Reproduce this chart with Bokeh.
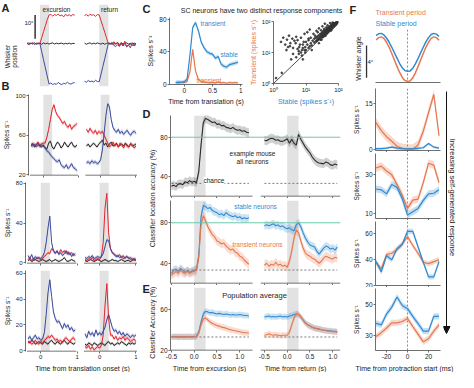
import numpy as np
from math import pi
from bokeh.plotting import figure
from bokeh.models import Label, BoxAnnotation, Span, FixedTicker, Arrow, NormalHead
from bokeh.layouts import row, column
from bokeh.embed import file_html
from bokeh.resources import INLINE

# ============================ DATA ============================
# A/B: time from translation onset (s) -- excursion and return segments
T_EXC_B = [-0.35, -0.3, -0.25, -0.2, -0.15, -0.1, -0.05, 0.0, 0.05, 0.1, 0.15, 0.2, 0.25, 0.3,
           0.35, 0.4, 0.45, 0.5, 0.55, 0.6, 0.65, 0.7, 0.75, 0.8, 0.85, 0.9, 0.95]
T_RET_B = [-0.4, -0.35, -0.3, -0.25, -0.2, -0.15, -0.1, -0.05, 0.0, 0.05, 0.1, 0.15, 0.2, 0.25,
           0.3, 0.35, 0.4, 0.45, 0.5, 0.55, 0.6, 0.65, 0.7, 0.75, 0.8, 0.85, 0.9, 0.95, 1.0]

# A: whisker position (deg)
A_RED_EXC = [0.2, -0.3, 0.1, 0.3, -0.2, 0.1, 0.2, 0.0, 2.5, 5.0, 7.5, 10.0, 12.0, 12.3, 11.5, 12.2,
             11.8, 12.4, 11.6, 12.0, 11.2, 12.3, 11.7, 12.1, 11.5, 12.2, 11.9]
A_BLUE_EXC = [-0.2, 0.3, -0.1, 0.2, -0.3, 0.1, -0.1, 0.0, -3.4, -6.8, -10.2, -13.6, -17.0, -16.5,
              -17.2, -16.8, -17.1, -16.3, -16.9, -17.2, -16.6, -16.9, -16.2, -16.8, -17.0, -16.5, -16.4]
A_BLACK_EXC = [0.3, -0.4, 0.2, -0.2, 0.4, -0.3, 0.1, 0.2, -0.3, 0.3, -0.1, 0.2, -0.2, 0.1, 0.3, -0.2,
               0.2, -0.1, 0.1, 0.2, -0.2, 0.1, -0.1, 0.2, -0.2, 0.1, 0.0]
A_RED_RET = [11.8, 12.2, 11.5, 12.3, 11.9, 12.1, 11.4, 12.2, 12.0, 9.6, 7.2, 4.8, 2.4, 0.0, 0.3, -0.5,
             0.8, -0.4, 0.6, -1.2, 0.5, -0.8, 1.0, -1.5, -0.6, -1.8, 0.4, -1.0, -0.5]
A_BLUE_RET = [-15.8, -16.2, -15.5, -16.0, -15.7, -16.1, -15.4, -15.9, -16.0, -12.8, -9.6, -6.4, -3.2,
              0.0, -0.3, 0.4, -0.8, -1.2, -0.5, -1.0, -0.3, -0.9, -0.4, -1.1, -0.6, -0.2, -0.8, -0.5, -0.3]
A_BLACK_RET = [0.2, -0.3, 0.1, 0.3, -0.2, 0.2, -0.1, 0.3, 0.0, -0.2, 0.2, -0.3, 0.1, 0.2, -0.1, 0.3,
               -0.2, 0.1, 0.2, -0.3, 0.1, -0.1, 0.2, 0.3, -0.2, 0.1, -0.2, 0.2, 0.0]

# B: firing rates of three example neurons (spikes/s)
B1_RED_EXC = [50, 52, 49, 51, 53, 50, 51, 52, 52, 58, 66, 76, 86, 91, 84, 80, 78, 75, 72, 74, 70, 68,
              71, 66, 69, 70, 72]
B1_BLUE_EXC = [50, 49, 51, 48, 50, 49, 50, 49, 47, 44, 43, 40, 38, 36, 34, 33, 35, 30, 28, 27, 30, 26,
               28, 31, 27, 26, 24]
B1_BLACK_EXC = [49, 51, 48, 50, 52, 49, 48, 50, 47, 46, 52, 54, 48, 46, 50, 53, 51, 47, 49, 53, 50, 48,
                51, 53, 49, 48, 50]
B1_RED_RET = [66, 63, 67, 64, 62, 65, 61, 64, 62, 64, 60, 56, 52, 48, 50, 53, 49, 51, 48, 52, 50, 47,
              51, 49, 48, 52, 50, 47, 49]
B1_BLUE_RET = [32, 33, 31, 34, 32, 33, 31, 32, 35, 45, 62, 80, 92, 89, 76, 68, 65, 63, 66, 62, 64, 61,
               63, 65, 62, 60, 63, 64, 62]
B1_BLACK_RET = [49, 51, 48, 50, 52, 50, 48, 51, 53, 55, 50, 52, 48, 51, 53, 49, 50, 52, 48, 50, 51, 49,
                52, 50, 48, 51, 49, 50, 51]

B2_RED_EXC = [3, 5, 2, 4, 3, 5, 4, 3, 4, 6, 8, 10, 9, 14, 12, 10, 11, 9, 13, 10, 12, 9, 11, 8, 10, 7, 9]
B2_BLUE_EXC = [7, 4, 8, 3, 6, 4, 5, 4, 6, 10, 20, 35, 47, 20, 12, 9, 12, 8, 10, 7, 9, 12, 8, 10, 6, 9, 7]
B2_BLACK_EXC = [2, 3, 1, 2, 3, 2, 1, 2, 3, 2, 1, 2, 3, 1, 2, 3, 2, 1, 2, 3, 5, 2, 1, 2, 3, 2, 1]
B2_RED_RET = [3, 2, 4, 3, 5, 2, 3, 4, 3, 6, 20, 55, 70, 30, 14, 10, 9, 7, 6, 8, 5, 7, 4, 6, 5, 3, 4, 2, 3]
B2_BLUE_RET = [5, 4, 6, 5, 7, 4, 5, 6, 5, 6, 9, 16, 23, 22, 14, 10, 8, 6, 7, 5, 6, 4, 5, 6, 4, 5, 3, 4, 3]
B2_BLACK_RET = [2, 1, 2, 3, 2, 1, 2, 3, 2, 1, 2, 3, 2, 1, 2, 3, 2, 2, 1, 2, 3, 2, 1, 2, 2, 1, 2, 3, 2]

B3_BLUE_EXC = [9, 11, 8, 10, 12, 9, 10, 8, 9, 14, 28, 45, 55, 42, 30, 25, 22, 23, 20, 17, 21, 18, 20,
               16, 18, 15, 16]
B3_RED_EXC = [6, 7, 5, 6, 8, 6, 5, 7, 6, 8, 9, 11, 10, 12, 10, 8, 9, 7, 8, 6, 9, 10, 8, 7, 9, 10, 8]
B3_BLACK_EXC = [7, 6, 8, 7, 5, 6, 7, 6, 5, 7, 6, 5, 7, 8, 6, 5, 7, 6, 5, 7, 8, 6, 5, 7, 6, 5, 6]
B3_BLUE_RET = [13, 10, 15, 12, 14, 11, 16, 12, 14, 12, 15, 18, 24, 28, 23, 18, 15, 16, 13, 15, 12, 14,
               11, 13, 12, 10, 12, 11, 12]
B3_RED_RET = [3, 2, 4, 1, 3, 0.5, 2, 3, 2, 4, 12, 35, 52, 25, 12, 12, 9, 11, 8, 10, 9, 11, 8, 10, 9, 7,
              8, 9, 7]
B3_BLACK_RET = [5, 4, 6, 5, 4, 6, 5, 4, 5, 6, 5, 4, 6, 7, 5, 6, 4, 5, 6, 5, 7, 6, 5, 4, 6, 5, 6, 5, 6]

# C: population responses (spikes/s) and per-neuron components
T_C = [-0.15, -0.1, -0.05, 0.0, 0.05, 0.1, 0.15, 0.2, 0.25, 0.3, 0.35, 0.4, 0.45, 0.5, 0.55, 0.6, 0.65,
       0.7, 0.75, 0.8, 0.85, 0.9, 0.95]
C_STABLE = [2, 2.5, 2, 3, 6, 35, 70, 76, 66, 52, 45, 40, 38, 37, 32, 34, 25, 22, 21, 24, 25, 26, 27]
C_TRANS = [2, 1.5, 2.5, 2, 3, 15, 43, 16, 6, 3, 2.5, 2, 1.5, 2, 1.5, 2.5, 1.5, 2, 1, 2, 1.5, 2, 1.5]
SCAT_STABLE = [10, 11, 12, 12, 13, 14, 14, 15, 16, 17, 18, 18, 19, 20, 21, 22, 22, 23, 24, 25,
               26, 27, 28, 29, 30, 31, 32, 33, 34, 35, 36, 37, 38, 39, 40, 41, 42, 44, 45, 46,
               47, 48, 50, 51, 52, 54, 55, 56, 58, 60, 61, 63, 65, 66, 68, 70, 72, 74, 76, 79,
               82, 85, 88, 92,
               3.5, 4, 5, 5.5, 6, 6.5, 7, 7.5, 8, 8.5, 9, 9.5,
               1.7, 2.0, 2.3, 2.6, 3.0, 3.3, 3.8, 4.4, 5.0, 2.8,
               15, 25, 40, 60, 8, 30, 1.2, 1.8,
               20, 22, 24, 26, 28, 30, 32, 34, 36, 38, 40, 42, 44, 46, 48, 50, 52, 54, 56, 58,
               60, 62, 64, 66, 68, 70, 72, 75, 78, 80, 84, 87, 90, 95, 35, 45, 55, 65, 75, 85,
               50, 60, 70, 80, 90, 28, 33, 38, 43, 48,
               2.5, 3.2, 4.0, 4.8, 5.5, 6.2, 7.0, 8.0, 9.0, 10, 11, 12, 13, 6, 7.5, 9.5]
SCAT_TRANS = [12, 18, 14, 25, 16, 30, 20, 17, 24, 40, 21, 28, 35, 23, 50, 26, 32, 45, 28, 60,
              30, 38, 33, 52, 35, 42, 70, 37, 48, 40, 58, 42, 85, 45, 52, 47, 64, 50, 55, 75,
              52, 58, 56, 68, 60, 62, 90, 64, 66, 80, 68, 72, 70, 95, 76, 78, 88, 80, 84, 90,
              88, 94, 97, 98,
              6, 9, 7, 13, 9, 18, 10, 8, 14, 22, 12, 10,
              22, 30, 18, 26, 35, 20, 28, 24, 32, 15,
              12, 20, 35, 52, 6, 26, 1.5, 2.2,
              30, 24, 35, 27, 40, 31, 45, 36, 52, 40, 44, 55, 46, 60, 50, 62, 54, 68, 58, 72,
              62, 66, 80, 68, 72, 84, 74, 78, 86, 82, 86, 92, 92, 97, 33, 42, 50, 60, 70, 80,
              48, 57, 67, 77, 88, 26, 31, 36, 40, 45,
              12, 16, 14, 20, 25, 15, 30, 18, 40, 22, 45, 28, 55, 11, 12, 15]
LOG_LIM = [1, 100]

# D/E: classifier accuracy (%)
T_EXC_D = [-0.5, -0.45, -0.4, -0.35, -0.3, -0.25, -0.2, -0.15, -0.1, -0.05, 0.0, 0.05, 0.1, 0.15, 0.2,
           0.25, 0.3, 0.35, 0.4, 0.45, 0.5, 0.55, 0.6, 0.65, 0.7, 0.75, 0.8, 0.85, 0.9, 0.95, 1.0, 1.05,
           1.1, 1.15, 1.2]
T_RET_D = [-0.5, -0.45, -0.4, -0.35, -0.3, -0.25, -0.2, -0.15, -0.1, -0.05, 0.0, 0.05, 0.1, 0.15, 0.2,
           0.25, 0.3, 0.35, 0.4, 0.45, 0.5, 0.55, 0.6, 0.65, 0.7, 0.75, 0.8, 0.85, 0.9, 0.95, 1.0, 1.05,
           1.1]
D1_ALL_EXC = [30.5, 31.5, 30, 32.5, 33, 32, 35, 34, 36, 34.5, 35.5, 34, 45, 72, 95, 99, 98, 96.5, 95,
              95.5, 93, 93.5, 91.5, 92, 90, 89.5, 88.5, 90, 88, 87, 87.5, 86, 86.5, 85, 84.5]
D1_ALL_RET = [77, 76.5, 78, 79, 78.5, 77, 77.5, 76, 75.8, 77, 78.5, 74, 78, 74, 72, 82.8, 78, 74, 70,
              67, 64, 60, 57, 55, 54, 53.5, 53, 55, 54, 52, 51.5, 53, 52]
D2_STABLE_EXC = [30, 33, 34, 32, 35, 33, 31, 33, 31, 32, 33, 34, 48, 86, 97, 96, 94, 95, 92, 91, 90, 88,
                 89, 87, 90, 88, 87, 86, 87, 85, 86, 84, 85, 84, 85]
D2_TRANS_EXC = [28, 30, 32, 30, 33, 31, 30, 32, 30, 31, 32, 33, 45, 78, 87, 82, 76, 72, 68, 66, 62, 61,
                59, 60, 57, 55, 53, 54, 51, 50, 47, 46, 43, 41, 39]
D2_STABLE_RET = [77, 78, 77, 78, 79, 77, 78, 76, 77, 75, 74, 75, 73, 72, 78, 80, 76, 70, 65, 61, 58, 57,
                 56, 52, 49, 52, 55, 57, 56, 54, 55, 53, 56]
D2_TRANS_RET = [38, 40, 37, 39, 38, 41, 38, 39, 37, 38, 36, 42, 52, 65, 73, 70, 62, 55, 50, 48, 47, 45,
                44, 42, 40, 42, 45, 47, 46, 45, 44, 46, 45]
E_STABLE_EXC = [33.5, 33.5, 33.8, 33.2, 33.5, 33.6, 33.4, 33.5, 33.7, 33.4, 33.5, 34, 38, 48, 56, 58.5,
                58, 57, 57.5, 56.5, 56, 56.5, 56, 55.5, 56, 55.5, 55, 55.5, 55, 55, 55.5, 55, 54.5,
                54.5, 54]
E_TRANS_EXC = [33.5, 33.3, 33.6, 33.4, 33.5, 33.2, 33.6, 33.4, 33.5, 33.3, 33.5, 34, 37, 45, 51, 52,
               50, 48, 46.5, 45.5, 44.5, 44, 43, 42.5, 42, 41, 40.5, 40, 39.5, 39, 38.5, 38, 37.5,
               37.5, 37]
E_STABLE_RET = [53, 53.5, 54, 53, 53.5, 53, 53.5, 54, 53, 53.5, 53, 54, 54.5, 55.5, 56, 55.5, 53, 50,
                47, 45.5, 44, 43, 42, 41.5, 41, 40.5, 40, 40, 39.5, 39.5, 39, 39, 38.5]
E_TRANS_RET = [35, 35.5, 36.5, 35.5, 35, 35.5, 35, 34.5, 35, 35, 35, 38, 45, 52, 56, 55.5, 53, 50, 47,
               45, 44, 43, 42, 41.5, 41, 40.5, 40, 39.5, 39, 39, 38.5, 38.5, 38]
CHANCE = 33.3
TARGET = 80

# F: whisking (ms from protraction start)
T_ANGLE = [-30, -27.5, -25, -22.5, -20, -17.5, -15, -12.5, -10, -7.5, -5, -2.5, 0, 2.5, 5, 7.5, 10,
           12.5, 15, 17.5, 20, 22.5, 25, 27.5, 30]
ANGLE_STABLE = [-0.3, -0.05, 0, -0.2, -0.6, -1.15, -1.8, -2.5, -3.2, -3.9, -4.45, -4.8, -4.9, -4.85,
                -4.5, -3.95, -3.25, -2.5, -1.8, -1.1, -0.55, -0.15, 0, -0.1, -0.4]
ANGLE_TRANS = [-0.85, -0.55, -0.45, -0.65, -1.15, -1.8, -2.6, -3.45, -4.3, -5.05, -5.7, -6.1, -6.2,
               -6.15, -5.75, -5.1, -4.3, -3.45, -2.6, -1.8, -1.15, -0.65, -0.45, -0.55, -0.9]
T_F = [-30, -25, -20, -15, -10, -5, 0, 5, 10, 15, 20, 25, 30]
F1_TRANS = [8.8, 6.2, 4.2, 2.7, 1.1, 0.4, 0.2, 0.2, 1.5, 6, 12, 18, 4.5]
F1_STABLE = [0.3, 0.3, 0.5, 0.8, 0.5, 0.3, 0.2, 0.2, 0.4, 0.6, 2.0, 0.8, 0.5]
F2_TRANS = [33.5, 34.5, 32, 30, 25, 19.5, 12.7, 17, 17.5, 26, 36, 35, 26]
F2_STABLE = [22.7, 22.3, 20.2, 25, 23.5, 17.7, 9.3, 11, 12.7, 16.8, 20.2, 20.5, 22.3]
F3_TRANS = [38, 33, 44, 45, 48, 52, 58, 51, 45, 38, 37, 38.5, 40]
F3_STABLE = [38.5, 30.5, 43, 40, 48.5, 52, 62, 62, 50, 38, 26.7, 26.7, 38.5]
F4_STABLE = [37.5, 36.5, 43.5, 48, 54.5, 49, 47, 42, 37.4, 32.5, 32.5, 42, 42]
F4_TRANS = [29, 31.5, 34.5, 37.8, 37.8, 38.7, 40.6, 35.5, 30.6, 25.6, 27.6, 32.5, 36.5]

TRANS_WIN = [0.0, 0.25]          # translation period (s)
SCALE_A_DEG = 10
SCALE_F_DEG = 4

# ============================ STYLE / LAYOUT ============================
FONT = "Liberation Sans"
TXT = "#222222"
AXC = "#4a4a4a"
RED = "#e2262e"
NAVY = "#3c4c9f"
BLK = "#2b2b2b"
BLUE = "#2f8ad0"
ORANGE = "#e6774e"
GREEN = "#6cc9a8"
BAND = "#e2e2e2"
DASH = "#7a7a7a"
OFF_B = 1.62   # placement of the return segment (col 1)
OFF_D = 2.04   # placement of the return segment (D/E)

SX = 458 / 474
SY = 372 / 388


def X(v):
    return int(v * SX + 0.5)


def Y(v):
    return int(v * SY + 0.5)


REF = {}


def make(canvas, frame=None, xr=(0, 1), yr=(0, 1), xaxis=True, yaxis=True, **kw):
    x0, x1, y0, y1 = canvas
    fx0, fx1, fy0, fy1 = frame if frame is not None else canvas
    p = figure(width=X(x1) - X(x0), height=Y(y1) - Y(y0), x_range=xr, y_range=yr,
               min_border_left=X(fx0) - X(x0), min_border_right=X(x1) - X(fx1),
               min_border_top=Y(fy0) - Y(y0), min_border_bottom=Y(y1) - Y(fy1),
               x_axis_location="below" if xaxis else None,
               y_axis_location="left" if yaxis else None,
               output_backend="svg", toolbar_location=None, **kw)
    p.frame_align = False
    p.outline_line_color = None
    p.grid.visible = False
    p.background_fill_color = "white"
    p.border_fill_color = "white"
    REF[p.id] = (fx0, fy1)
    return p


def style_axes(p, xlabels=True, tick_font="6px", label_font="6.5px"):
    for ax in p.axis:
        ax.axis_line_color = AXC
        ax.axis_line_width = 0.8
        ax.major_tick_line_color = AXC
        ax.major_tick_line_width = 0.8
        ax.major_tick_in = 0
        ax.major_tick_out = 2
        ax.minor_tick_line_color = None
        ax.major_label_text_font = FONT
        ax.major_label_text_font_size = tick_font
        ax.major_label_text_color = TXT
        ax.major_label_standoff = 1
        ax.axis_label_text_font = FONT
        ax.axis_label_text_font_size = label_font
        ax.axis_label_text_font_style = "normal"
        ax.axis_label_text_color = TXT
        ax.axis_label_standoff = 2
    if not xlabels:
        for ax in p.xaxis:
            ax.major_label_text_color = None
            ax.major_label_text_font_size = "3px"
            ax.major_label_standoff = 0


def set_xticks(p, ticks, labels):
    ticks = [round(float(t), 4) for t in ticks]
    p.xaxis.ticker = FixedTicker(ticks=ticks)
    p.xaxis.major_label_overrides = dict(zip(ticks, labels))


def text(p, s, ax, ay, size=6.5, color=TXT, align="left", baseline="middle", angle=0.0,
         bold=False, bg=None):
    fx0, fy1 = REF[p.id]
    kw = {}
    if bg is not None:
        kw["background_fill_color"] = bg
    p.add_layout(Label(x=X(ax) - X(fx0), y=Y(fy1) - Y(ay), x_units="screen", y_units="screen",
                       text=s, text_font=FONT, text_font_size=f"{size}px", text_color=color,
                       text_align=align, text_baseline=baseline, angle=angle,
                       text_font_style="bold" if bold else "normal", **kw))


def arrow_abs(p, ax0, ay0, ax1, ay1, head=None, color="#111111", width=1.0):
    fx0, fy1 = REF[p.id]
    p.add_layout(Arrow(x_start=X(ax0) - X(fx0), y_start=Y(fy1) - Y(ay0),
                       x_end=X(ax1) - X(fx0), y_end=Y(fy1) - Y(ay1),
                       start_units="screen", end_units="screen", start=None, end=head,
                       line_color=color, line_width=width))


def bands(p, lefts):
    for l in lefts:
        p.add_layout(BoxAnnotation(left=l, right=l + (TRANS_WIN[1] - TRANS_WIN[0]),
                                   fill_color=BAND, fill_alpha=1.0, line_color=None,
                                   level="underlay"))


def axis_segments(p, spans, y0):
    for a, b in spans:
        p.add_layout(Arrow(x_start=a, y_start=y0, x_end=b, y_end=y0, start=None, end=None,
                           line_color=AXC, line_width=1.6))


def trace(p, x, y, color, sem, width=1.0, alpha=0.28):
    x = np.asarray(x, dtype=float)
    y = np.asarray(y, dtype=float)
    p.varea(x=x, y1=y - sem, y2=y + sem, fill_color=color, fill_alpha=alpha)
    p.line(x, y, line_color=color, line_width=width)


# ============================ COLUMN 1 (A, B) ============================
XR1 = (-0.42, 2.72)
xe_b = np.array(T_EXC_B)
xr_b = np.array(T_RET_B) + OFF_B
band_b = [TRANS_WIN[0], TRANS_WIN[0] + OFF_B]

pAlab = make((0, 25, 0, 96), xaxis=False, yaxis=False)
text(pAlab, "A", 1, 7, size=11, bold=True)
text(pAlab, "B", 1, 89, size=11, bold=True)
text(pAlab, "Whisker", 7, 58, align="center", angle=pi / 2)
text(pAlab, "position", 15, 58, align="center", angle=pi / 2)

pA = make((25, 146, 0, 96), (25, 144, 4, 90), XR1, (-18, 16.4), xaxis=False, yaxis=False)
bands(pA, band_b)
for ye, yr_, c in ((A_BLACK_EXC, A_BLACK_RET, BLK), (A_RED_EXC, A_RED_RET, RED),
                   (A_BLUE_EXC, A_BLUE_RET, NAVY)):
    pA.line(xe_b, ye, line_color=c, line_width=1)
    pA.line(xr_b, yr_, line_color=c, line_width=1)
pA.segment(x0=[-0.13], y0=[2], x1=[-0.13], y1=[2 + SCALE_A_DEG], line_color="#333333", line_width=1.5)
text(pA, "excursion", 58, 9, align="center")
text(pA, "return", 113, 9, align="center")
text(pA, f"{SCALE_A_DEG}°", 34, 23, align="right", size=6)


def b_panel(canvas, frame, yr, yticks, traces, last):
    p = make(canvas, frame, XR1, yr)
    style_axes(p, xlabels=last, tick_font="6px")
    p.yaxis.ticker = FixedTicker(ticks=yticks)
    p.yaxis.axis_label = "Spikes s⁻¹"
    set_xticks(p, [0, 1, OFF_B, OFF_B + 1], ["0", "1", "0", "1"])
    p.xaxis.axis_line_color = None
    axis_segments(p, [(xe_b[0] - 0.03, xe_b[-1] + 0.03), (xr_b[0] - 0.03, xr_b[-1] + 0.03)], yr[0])
    bands(p, band_b)
    for ye, yr_, c, s in traces:
        trace(p, xe_b, ye, c, s)
        trace(p, xr_b, yr_, c, s)
    return p


pB1 = b_panel((0, 146, 96, 187), (25, 144, 98, 183), (19, 101.5), [20, 60, 100],
              [(B1_BLACK_EXC, B1_BLACK_RET, BLK, 1.5), (B1_RED_EXC, B1_RED_RET, RED, 2.0),
               (B1_BLUE_EXC, B1_BLUE_RET, NAVY, 2.0)], False)
pB2 = b_panel((0, 146, 187, 279), (25, 144, 190, 274), (-1, 81), [0, 40, 80],
              [(B2_BLACK_EXC, B2_BLACK_RET, BLK, 1.0), (B2_RED_EXC, B2_RED_RET, RED, 1.5),
               (B2_BLUE_EXC, B2_BLUE_RET, NAVY, 1.5)], False)
pB3 = b_panel((0, 146, 279, 377), (25, 144, 282, 366), (-0.7, 62.2), [0, 20, 40, 60],
              [(B3_BLACK_EXC, B3_BLACK_RET, BLK, 1.0), (B3_RED_EXC, B3_RED_RET, RED, 1.5),
               (B3_BLUE_EXC, B3_BLUE_RET, NAVY, 1.5)], True)
pXB = make((0, 146, 377, 388), xaxis=False, yaxis=False)
text(pXB, "Time from translation onset (s)", 85, 382.5, size=7, align="center")

col1 = column(row(pAlab, pA), pB1, pB2, pB3, pXB)

# ============================ COLUMN 2 (C, D, E) ============================
pT = make((146, 355, 0, 16), xaxis=False, yaxis=False)
text(pT, "C", 147, 8, size=11, bold=True)
text(pT, "SC neurons have two distinct response components", 270, 10, size=7, align="center")

pC = make((146, 255, 16, 112), (175, 250, 18, 89), (-0.26, 1.03), (-0.5, 82.3))
style_axes(pC, tick_font="6.5px", label_font="7px")
pC.yaxis.ticker = FixedTicker(ticks=[0, 40, 80])
pC.yaxis.axis_label = "Spikes s⁻¹"
pC.xaxis.axis_label = "Time from translation (s)"
set_xticks(pC, [0, 0.5, 1], ["0", "0.5", "1"])
trace(pC, T_C, C_TRANS, ORANGE, 1.5, width=1.2)
trace(pC, T_C, C_STABLE, BLUE, 2.5, width=1.2)
text(pC, "transient", 207, 25, color=BLUE)
text(pC, "stable", 228, 57, color=BLUE)
text(pC, "transient", 203, 85, color=ORANGE)

pS = make((255, 355, 16, 112), (278, 350, 22, 90), (LOG_LIM[0], LOG_LIM[1]), (LOG_LIM[0], LOG_LIM[1]),
          x_axis_type="log", y_axis_type="log")
style_axes(pS, tick_font="6px", label_font="7px")
for ax in (pS.xaxis, pS.yaxis):
    ax.ticker = FixedTicker(ticks=[1, 10, 100])
    ax.major_label_overrides = {1: "10⁰", 10: "10¹", 100: "10²"}
pS.yaxis.axis_label = "Transient (spikes s⁻¹)"
pS.yaxis.axis_label_text_color = ORANGE
pS.xaxis.axis_label = "Stable (spikes s⁻¹)"
pS.xaxis.axis_label_text_color = BLUE
pS.line(LOG_LIM, LOG_LIM, line_color="#222222", line_width=0.8)
pS.scatter(SCAT_STABLE, SCAT_TRANS, size=1.8, color="#333333", alpha=0.85)

pLab = make((146, 162, 112, 388), xaxis=False, yaxis=False)
text(pLab, "D", 147, 118, size=11, bold=True)
text(pLab, "E", 147, 300, size=11, bold=True)
text(pLab, "Classifier location accuracy (%)", 157, 206, size=7, align="center", angle=pi / 2)
text(pLab, "Classifier Accuracy (%)", 157, 336, size=7, align="center", angle=pi / 2)

XRD = (-0.52, 3.21)
xe_d = np.array(T_EXC_D)
xr_d = np.array(T_RET_D) + OFF_D
band_d = [TRANS_WIN[0], TRANS_WIN[0] + OFF_D]
TK = [-0.5, 0.0, 0.5, 1.0]


def d_panel(canvas, frame, yr, yticks, last, target=True):
    p = make(canvas, frame, XRD, yr)
    style_axes(p, xlabels=last, tick_font="6.5px")
    p.yaxis.ticker = FixedTicker(ticks=yticks)
    set_xticks(p, TK + [t + OFF_D for t in TK], [f"{t:.1f}" for t in TK] * 2)
    p.xaxis.axis_line_color = None
    axis_segments(p, [(XRD[0], xe_d[-1] + 0.08), (xr_d[0] - 0.08, XRD[1])], yr[0])
    bands(p, band_d)
    if target:
        p.add_layout(Span(location=TARGET, dimension="width", line_color=GREEN, line_width=1))
    for x0, x1 in ((xe_d[0], xe_d[-1]), (xr_d[0], xr_d[-1])):
        p.line([x0, x1], [CHANCE, CHANCE], line_color=DASH, line_dash="2 2", line_width=1)
    return p


pD1 = d_panel((162, 355, 112, 207), (175, 352, 120, 206), (20, 102), [40, 80], False)
trace(pD1, xe_d, D1_ALL_EXC, BLK, 4.5, width=1.1, alpha=0.22)
trace(pD1, xr_d, D1_ALL_RET, BLK, 4.5, width=1.1, alpha=0.22)
text(pD1, "example mouse", 260, 162, align="center")
text(pD1, "all neurons", 260, 170, align="center")
text(pD1, "chance", 209, 190, bg="white")

pD2 = d_panel((162, 355, 207, 297), (175, 352, 209, 295), (20, 102), [40, 80], False)
for xs, ys_s, ys_t in ((xe_d, D2_STABLE_EXC, D2_TRANS_EXC), (xr_d, D2_STABLE_RET, D2_TRANS_RET)):
    trace(pD2, xs, ys_s, BLUE, 4.0, width=1.1, alpha=0.25)
    trace(pD2, xs, ys_t, ORANGE, 4.5, width=1.1, alpha=0.25)
text(pD2, "stable neurons", 263, 215, align="center", color=BLUE)
text(pD2, "transient neurons", 265, 255, align="center", color=ORANGE)

pE = d_panel((162, 355, 297, 377), (175, 352, 299, 366), (20, 82), [20, 60], True, target=False)
for xs, ys_s, ys_t in ((xe_d, E_STABLE_EXC, E_TRANS_EXC), (xr_d, E_STABLE_RET, E_TRANS_RET)):
    trace(pE, xs, ys_s, BLUE, 3.0, width=1.1, alpha=0.25)
    trace(pE, xs, ys_t, ORANGE, 3.0, width=1.1, alpha=0.25)
text(pE, "Population average", 262, 309, size=7.5, align="center")

pXD = make((162, 355, 377, 388), xaxis=False, yaxis=False)
text(pXD, "Time from excursion (s)", 216, 382.5, size=7, align="center")
text(pXD, "Time from return (s)", 305, 382.5, size=7, align="center")

col2 = column(pT, row(pC, pS), row(pLab, column(pD1, pD2, pE, pXD)))

# ============================ COLUMN 3 (F) ============================
XRF = (-30.5, 31.4)
YR_ANGLE = (-6.35, 0.5)

pLeg = make((355, 458, 0, 30), xaxis=False, yaxis=False)
text(pLeg, "F", 361, 9, size=11, bold=True)
text(pLeg, "Transient period", 388, 13, size=7, color=ORANGE)
text(pLeg, "Stable period", 388, 24, size=7, color=BLUE)

pWlab = make((355, 388, 30, 90), (355, 388, 30, 88), (0, 1), YR_ANGLE, xaxis=False, yaxis=False)
pWlab.add_layout(Arrow(x_start=0.72, y_start=-1.5, x_end=0.72, y_end=-1.5 - SCALE_F_DEG, start=None,
                       end=None, line_color="#333333", line_width=1.3))
text(pWlab, "Whisker angle", 370, 60, size=7, align="center", angle=pi / 2)
text(pWlab, f"{SCALE_F_DEG}°", 380, 64, size=6)

pW = make((388, 458, 30, 90), (388, 455, 30, 88), XRF, YR_ANGLE, yaxis=False)
style_axes(pW, xlabels=False)
pW.xaxis.major_tick_line_color = None
pW.add_layout(Span(location=0, dimension="height", line_color="#8a8a8a", line_dash="2 2", line_width=1))
pW.line(T_ANGLE, ANGLE_STABLE, line_color=BLUE, line_width=1.5)
pW.line(T_ANGLE, ANGLE_TRANS, line_color=ORANGE, line_width=1.5)


def f_panel(canvas, frame, yr, yticks, stable, trans, sem_s, sem_t, last):
    p = make(canvas, frame, XRF, yr)
    style_axes(p, xlabels=last, tick_font="6.5px")
    p.yaxis.ticker = FixedTicker(ticks=yticks)
    p.yaxis.axis_label = "Spikes s⁻¹"
    set_xticks(p, [-20, 0, 20], ["-20", "0", "20"])
    p.add_layout(Span(location=0, dimension="height", line_color="#8a8a8a", line_dash="2 2", line_width=1))
    trace(p, T_F, trans, ORANGE, sem_t, width=1.2, alpha=0.28)
    trace(p, T_F, stable, BLUE, sem_s, width=1.2, alpha=0.28)
    return p


pF1 = f_panel((355, 458, 90, 159), (388, 455, 92, 157), (-0.3, 19.9), [0, 15], F1_STABLE, F1_TRANS,
              0.4, 1.5, False)
pF2 = f_panel((355, 458, 159, 229), (388, 455, 160, 227), (7.5, 41), [10, 30], F2_STABLE, F2_TRANS,
              1.8, 2.0, False)
pF3 = f_panel((355, 458, 229, 299), (388, 455, 230, 297), (20, 69.6), [20, 40, 60], F3_STABLE, F3_TRANS,
              2.0, 2.0, False)
pF4 = f_panel((355, 458, 299, 377), (388, 455, 300, 366), (20, 60), [30, 50], F4_STABLE, F4_TRANS,
              2.0, 2.0, True)

pArr = make((458, 474, 0, 377), xaxis=False, yaxis=False)
arrow_abs(pArr, 462, 95, 462, 347, head=NormalHead(size=7, fill_color="#111111", line_color="#111111"))
text(pArr, "Increasing self-generated response", 468, 205, size=7.5, align="center", angle=-pi / 2)

pXF = make((355, 474, 377, 388), xaxis=False, yaxis=False)
text(pXF, "Time from protraction start (ms)", 418, 382.5, size=7, align="center")

col3 = column(row(column(pLeg, row(pWlab, pW), pF1, pF2, pF3, pF4), pArr), pXF)

layout = row(col1, col2, col3)
open("out.html", "w").write(file_html(layout, INLINE, title="SC neurons response components"))
